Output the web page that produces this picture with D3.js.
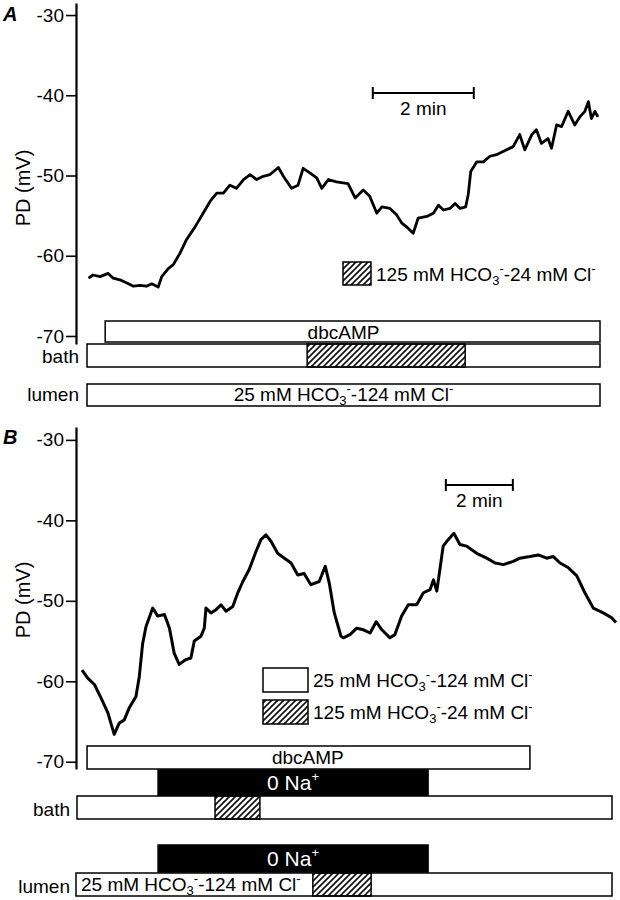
<!DOCTYPE html>
<html>
<head>
<meta charset="utf-8">
<script src="https://cdn.jsdelivr.net/npm/d3@7"></script>
<style>
  body { margin: 0; background: #fff; }
  svg { display: block; font-family: "Liberation Sans", Arial, sans-serif; }
</style>
</head>
<body>
<div id="chart"></div>
<script>
// values (time in min, PD in mV)
var timeA = [0.03,0.12,0.26,0.42,0.52,0.65,0.79,0.92,1.05,1.18,1.28,1.41,1.48,1.61,1.71,1.84,1.97,2.14,2.30,2.44,2.57,2.70,2.83,2.96,3.10,3.23,3.36,3.49,3.62,3.79,3.89,4.05,4.18,4.28,4.42,4.55,4.65,4.78,4.94,5.17,5.31,5.47,5.60,5.74,5.84,6.00,6.13,6.23,6.33,6.46,6.56,6.73,6.86,6.96,7.06,7.19,7.29,7.39,7.50,7.55,7.60,7.72,7.85,7.98,8.11,8.24,8.44,8.57,8.67,8.81,8.90,9.00,9.13,9.20,9.30,9.40,9.53,9.66,9.76,9.86,9.93,9.99,10.06,10.12];
var pdA = [-62.8,-62.4,-62.6,-62.2,-62.8,-63.0,-63.4,-63.8,-63.7,-63.8,-63.5,-63.9,-62.6,-61.6,-61.1,-59.7,-58.0,-56.4,-54.7,-53.2,-52.2,-52.2,-51.2,-51.6,-50.5,-49.9,-50.5,-50.1,-49.9,-49.0,-50.1,-51.6,-51.2,-49.1,-49.7,-50.3,-51.6,-50.5,-50.8,-51.0,-52.8,-51.8,-52.6,-54.7,-53.9,-54.1,-54.9,-55.9,-56.4,-57.2,-55.3,-55.1,-54.7,-53.7,-54.3,-54.1,-53.5,-54.1,-53.9,-52.4,-49.5,-48.3,-48.3,-47.6,-47.4,-47.0,-46.4,-44.9,-46.8,-44.9,-44.3,-46.0,-45.4,-46.6,-43.7,-43.9,-42.0,-43.7,-42.7,-42.0,-40.8,-42.9,-42.0,-42.7];

var timeB = [0.18,0.35,0.55,0.75,0.95,1.14,1.29,1.44,1.59,1.79,1.89,1.99,2.09,2.29,2.44,2.64,2.79,2.93,3.08,3.28,3.43,3.53,3.73,3.83,3.88,4.03,4.18,4.33,4.48,4.68,4.83,4.98,5.17,5.37,5.52,5.67,5.82,6.02,6.22,6.42,6.62,6.81,7.01,7.26,7.44,7.56,7.71,7.91,7.98,8.18,8.38,8.58,8.78,8.96,9.13,9.37,9.52,9.72,9.92,10.17,10.37,10.57,10.67,10.77,10.87,10.96,11.11,11.28,11.46,11.66,11.96,12.26,12.51,12.76,13.05,13.25,13.55,13.80,14.05,14.25,14.45,14.70,14.95,15.19,15.44,15.74,15.99,16.12];
var pdB = [-58.6,-59.6,-60.4,-62.1,-63.9,-66.6,-65.2,-64.8,-63.3,-61.9,-59.4,-55.3,-53.2,-50.9,-51.9,-51.7,-53.4,-56.5,-57.9,-57.3,-57.1,-55.0,-54.4,-53.4,-50.9,-51.5,-51.1,-50.5,-51.3,-50.7,-49.0,-47.6,-46.1,-43.9,-42.4,-41.8,-42.6,-44.1,-44.7,-45.3,-46.8,-46.6,-48.0,-47.6,-45.7,-47.8,-51.5,-54.4,-54.6,-54.2,-53.4,-53.6,-54.0,-52.6,-53.6,-54.6,-54.2,-51.9,-50.5,-50.5,-49.0,-48.6,-47.4,-48.8,-45.9,-43.2,-42.4,-41.6,-43.0,-43.2,-44.1,-44.7,-45.3,-45.5,-45.1,-44.7,-44.5,-44.3,-44.7,-44.5,-45.3,-45.9,-46.9,-49.0,-50.9,-51.5,-52.1,-52.7];

var pdTicks = [-30, -40, -50, -60, -70];

// protocol bars: [row, start min, end min, fill]
var barsA = [
  ["dbc", 0.36, 10.16, "white"],
  ["bath", 0, 10.16, "white"],
  ["bath", 4.36, 7.49, "hatch"],
  ["lumen", 0, 10.16, "white"]
];
var barsB = [
  ["dbc", 0.33, 13.55, "white"],
  ["naBath", 2.45, 10.51, "black"],
  ["bath", 0.03, 16, "white"],
  ["bath", 4.15, 5.49, "hatch"],
  ["naLumen", 2.45, 10.51, "black"],
  ["lumen", 0, 16, "white"],
  ["lumen", 7.07, 8.81, "hatch"]
];
var scaleBarA = [5.66, 7.66];
var scaleBarB = [11.04, 13.04];

var FS = 19;

var svg = d3.select("#chart").append("svg")
    .attr("width", 620)
    .attr("height", 900);

var defs = svg.append("defs");
defs.append("pattern")
    .attr("id", "hatch")
    .attr("patternUnits", "userSpaceOnUse")
    .attr("width", 6)
    .attr("height", 6)
    .append("path")
    .attr("d", "M-1,1 l2,-2 M0,6 l6,-6 M5,7 l2,-2")
    .attr("stroke", "#111")
    .attr("stroke-width", 1.7);

function fillOf(f) {
    return f == "hatch" ? "url(#hatch)" : (f == "black" ? "#000" : "#fff");
}

// HCO3- / Cl- label with sub and superscripts
function chem(text, a, b) {
    text.append("tspan").text(a + " mM HCO");
    text.append("tspan").attr("font-size", 13).attr("dy", 4).text("3");
    text.append("tspan").attr("font-size", 13).attr("dy", -12).text("-");
    text.append("tspan").attr("dy", 8).text("-" + b + " mM Cl");
    text.append("tspan").attr("font-size", 13).attr("dy", -8).text("-");
}

function drawPanel(p) {
    var x = d3.scaleLinear().domain(p.xDomain).range(p.xRange);
    var y = d3.scaleLinear().domain(p.yDomain).range(p.yRange);
    var g = svg.append("g");

    // panel letter
    g.append("text")
        .attr("x", 3).attr("y", p.letterY)
        .attr("font-size", 20).attr("font-weight", "bold").attr("font-style", "italic")
        .text(p.letter);

    // y axis
    var ax = g.append("g")
        .attr("transform", "translate(76,0)")
        .call(d3.axisLeft(y).tickValues(pdTicks).tickFormat(d => String(d))
            .tickSize(10).tickSizeOuter(0).tickPadding(2));
    ax.select(".domain").attr("stroke-width", 2.2);
    ax.selectAll(".tick line").attr("stroke-width", 1.6);
    ax.selectAll(".tick text").attr("font-size", FS).attr("fill", "#000")
        .attr("font-family", "Liberation Sans, Arial, sans-serif");

    g.append("text")
        .attr("transform", "translate(" + 30 + "," + p.labelY + ") rotate(-90)")
        .attr("text-anchor", "middle")
        .attr("font-size", 20)
        .text("PD (mV)");

    // trace
    var pts = d3.zip(p.time, p.pd);
    g.append("path")
        .datum(pts)
        .attr("fill", "none")
        .attr("stroke", "#000")
        .attr("stroke-width", p.lineWidth)
        .attr("stroke-linejoin", "round")
        .attr("d", d3.line().x(d => x(d[0])).y(d => y(d[1])));

    // 2 min scale bar
    var sb = g.append("g").attr("stroke", "#000").attr("stroke-width", 2);
    sb.append("line").attr("x1", x(p.scaleBar[0])).attr("x2", x(p.scaleBar[1]))
        .attr("y1", p.scaleY).attr("y2", p.scaleY);
    p.scaleBar.forEach(function (t) {
        sb.append("line").attr("x1", x(t)).attr("x2", x(t))
            .attr("y1", p.scaleY - 6).attr("y2", p.scaleY + 6);
    });
    g.append("text")
        .attr("x", (x(p.scaleBar[0]) + x(p.scaleBar[1])) / 2)
        .attr("y", p.scaleY + 22)
        .attr("text-anchor", "middle")
        .attr("font-size", FS)
        .text("2 min");

    // protocol bars
    p.bars.forEach(function (b) {
        var row = p.rows[b[0]];
        g.append("rect")
            .attr("x", x(b[1])).attr("width", x(b[2]) - x(b[1]))
            .attr("y", row[0]).attr("height", row[1] - row[0])
            .attr("fill", fillOf(b[3]))
            .attr("stroke", "#000")
            .attr("stroke-width", 1.5);
    });

    return x;
}

// ---------- panel A ----------
var xA = drawPanel({
    letter: "A", letterY: 21, labelY: 188,
    time: timeA, pd: pdA, lineWidth: 2.8,
    xDomain: [0, 10.16], xRange: [87, 600],
    yDomain: [-71, -28.5], yRange: [344, 3],
    scaleBar: scaleBarA, scaleY: 93,
    bars: barsA,
    rows: { dbc: [321, 342], bath: [344, 367], lumen: [384, 406] }
});

svg.append("text").attr("x", xA(5.08)).attr("y", 339)
    .attr("text-anchor", "middle").attr("font-size", FS).text("dbcAMP");
svg.append("text").attr("x", 79).attr("y", 363)
    .attr("text-anchor", "end").attr("font-size", FS).text("bath");
svg.append("text").attr("x", 79).attr("y", 401)
    .attr("text-anchor", "end").attr("font-size", FS).text("lumen");
chem(svg.append("text").attr("x", xA(5.08)).attr("y", 401)
    .attr("text-anchor", "middle").attr("font-size", FS), "25", "124");

// legend A
svg.append("rect").attr("x", 343).attr("y", 262).attr("width", 28).attr("height", 23)
    .attr("fill", "url(#hatch)").attr("stroke", "#000").attr("stroke-width", 1.5);
chem(svg.append("text").attr("x", 376).attr("y", 281).attr("font-size", FS), "125", "24");

// ---------- panel B ----------
var xB = drawPanel({
    letter: "B", letterY: 444, labelY: 600,
    time: timeB, pd: pdB, lineWidth: 3,
    xDomain: [0, 16], xRange: [76, 612],
    yDomain: [-70.9, -28.4], yRange: [769, 427],
    scaleBar: scaleBarB, scaleY: 485,
    bars: barsB,
    rows: { dbc: [746, 769], naBath: [770, 796], bath: [796, 819], naLumen: [845, 872], lumen: [873, 896] }
});

svg.append("text").attr("x", xB(6.92)).attr("y", 764)
    .attr("text-anchor", "middle").attr("font-size", FS).text("dbcAMP");
[790, 866].forEach(function (yy) {
    var t = svg.append("text").attr("x", xB(6.48)).attr("y", yy)
        .attr("text-anchor", "middle").attr("font-size", 21).attr("fill", "#fff");
    t.append("tspan").text("0 Na");
    t.append("tspan").attr("font-size", 13).attr("dy", -9).text("+");
});
svg.append("text").attr("x", 70).attr("y", 816)
    .attr("text-anchor", "end").attr("font-size", FS).text("bath");
svg.append("text").attr("x", 70).attr("y", 893)
    .attr("text-anchor", "end").attr("font-size", FS).text("lumen");
chem(svg.append("text").attr("x", 81).attr("y", 891).attr("font-size", FS), "25", "124");

// legend B
svg.append("rect").attr("x", 263).attr("y", 668).attr("width", 45).attr("height", 24)
    .attr("fill", "#fff").attr("stroke", "#000").attr("stroke-width", 1.5);
svg.append("rect").attr("x", 263).attr("y", 700).attr("width", 45).attr("height", 24)
    .attr("fill", "url(#hatch)").attr("stroke", "#000").attr("stroke-width", 1.5);
chem(svg.append("text").attr("x", 313).attr("y", 687).attr("font-size", FS), "25", "124");
chem(svg.append("text").attr("x", 313).attr("y", 719).attr("font-size", FS), "125", "24");
</script>
</body>
</html>
